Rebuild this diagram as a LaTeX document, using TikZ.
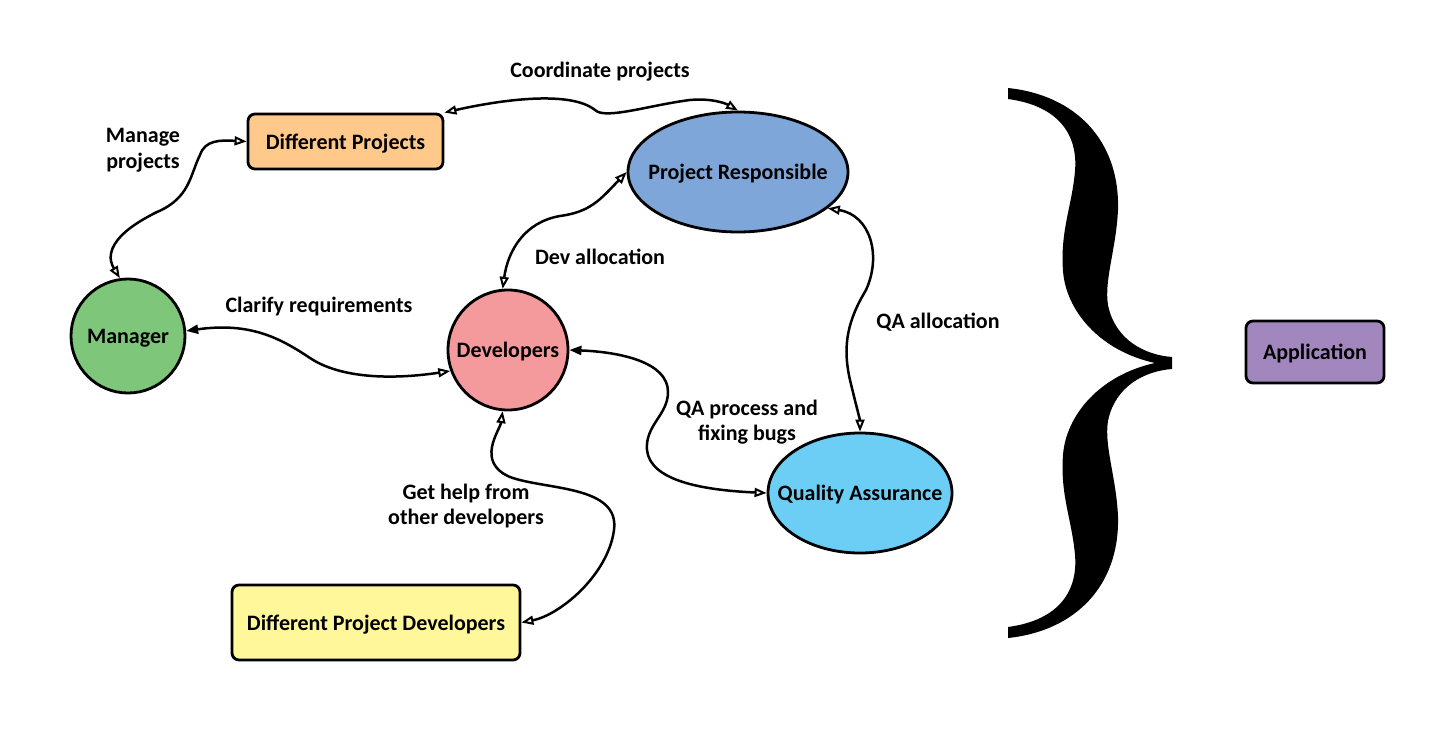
\documentclass[tikz,border=0pt]{standalone}
\usepackage{fontspec}
\setmainfont{Carlito}
\usetikzlibrary{arrows.meta,shapes.geometric}
\definecolor{projorange}{HTML}{FFC98C}
\definecolor{respblue}{HTML}{7EA6D8}
\definecolor{mgrgreen}{HTML}{7DC67A}
\definecolor{devpink}{HTML}{F4999C}
\definecolor{qablue}{HTML}{6DCEF5}
\definecolor{otheryellow}{HTML}{FFF79A}
\definecolor{apppurple}{HTML}{A287BE}
\newcommand{\lblfont}{\bfseries\fontsize{22}{25.5}\selectfont}
\tikzset{
	box/.style={draw,rectangle,rounded corners=7pt,line width=2.8pt,inner sep=0pt,text depth=0pt,font=\lblfont},
	blob/.style={draw,ellipse,line width=2.8pt,inner sep=-20pt,text depth=0pt,font=\lblfont},
	ball/.style={draw,circle,line width=2.8pt,inner sep=0pt,text depth=0pt,font=\lblfont},
	note/.style={font=\lblfont,align=center,inner sep=0pt},
	opentip/.tip={Triangle[open,length=12pt,width=9pt,line width=2pt]},
	fulltip/.tip={Triangle[length=12pt,width=9pt]}
}
\begin{document}
\begin{tikzpicture}[
	x=1pt,y=-1pt,
	line width=2.5pt,
	line cap=round,
	line join=round
	]
	\useasboundingbox[fill=white] (0,0) rectangle (1440,744);
	% nodes
	\node[box,fill=projorange,minimum width=195pt,minimum height=55pt] (projects) at (345.5,141.5) {Different Projects};
	\node[blob,fill=respblue,minimum width=220pt,minimum height=120pt] (resp) at (738,172) {Project Responsible};
	\node[ball,fill=mgrgreen,minimum size=114pt] (manager) at (128,336) {Manager};
	\node[ball,fill=devpink,minimum size=120pt] (devs) at (508,350) {Developers};
	\node[blob,fill=qablue,minimum width=184pt,minimum height=120pt] (qa) at (860,493) {Quality Assurance};
	\node[box,fill=otheryellow,minimum width=288pt,minimum height=75pt] (otherdevs) at (376,622.5) {Different Project Developers};
	\node[box,fill=apppurple,minimum width=138pt,minimum height=62pt] (app) at (1315,352) {Application};
	% labels
	\node[note] (lmanage) at (143,150) {Manage\\projects};
	\node[note] (lcoord) at (600,72) {Coordinate projects};
	\node[note] (ldev) at (600,257) {Dev allocation};
	\node[note] (lclarify) at (319,307) {Clarify requirements};
	\node[note] (lqaalloc) at (938,322) {QA allocation};
	\node[note] (lqaproc) at (747,422) {QA process and\\fixing bugs};
	\node[note] (lhelp) at (466,506) {Get help from\\other developers};
	% connectors
	\begin{scope}[opentip-opentip]
		\draw (manager.98) .. controls (110,262) and (100,240) .. (157,212) .. controls (190,198) and (190,175) .. (200,155) .. controls (205,140) and (220,140) .. (projects.west);
		\draw (projects.north east) .. controls (500,100) and (570,90) .. (595,110) .. controls (605,120) and (650,105) .. (690,100) .. controls (710,98) and (725,103) .. (resp.north);
		\draw (devs.95) .. controls (508,250) and (525,222) .. (560,216) .. controls (590,212) and (600,200) .. (resp.west);
		\draw (resp.-22) .. controls (870,215) and (882,255) .. (866,290) .. controls (848,320) and (842,345) .. (850,380) .. controls (856,405) and (860,420) .. (qa.north);
		\draw (devs.265) .. controls (500,430) and (475,462) .. (510,477) .. controls (545,490) and (620,485) .. (614,530) .. controls (608,575) and (560,615) .. (otherdevs.east);
	\end{scope}
	\begin{scope}[fulltip-opentip]
		\draw (manager.5) .. controls (250,322) and (280,338) .. (310,358) .. controls (340,378) and (390,380) .. (devs.200);
		\draw (devs.east) .. controls (620,352) and (668,362) .. (668,392) .. controls (668,415) and (645,425) .. (647,450) .. controls (650,480) and (700,490) .. (qa.west);
	\end{scope}
	% brace
	\fill (1008,88) .. controls (1075,95) and (1120,140) .. (1118,210) .. controls (1116,250) and (1104,280) .. (1108,305) .. controls (1115,340) and (1145,355) .. (1172,357) -- (1172,369) .. controls (1145,371) and (1115,386) .. (1108,421) .. controls (1104,446) and (1116,476) .. (1118,516) .. controls (1120,586) and (1075,631) .. (1008,638) -- (1008,627) .. controls (1060,620) and (1078,590) .. (1075,555) .. controls (1072,520) and (1060,495) .. (1063,455) .. controls (1066,415) and (1100,375) .. (1155,363) .. controls (1100,351) and (1066,311) .. (1063,271) .. controls (1060,231) and (1072,206) .. (1075,171) .. controls (1078,136) and (1060,106) .. (1008,99) -- cycle;
\end{tikzpicture}
\end{document}
